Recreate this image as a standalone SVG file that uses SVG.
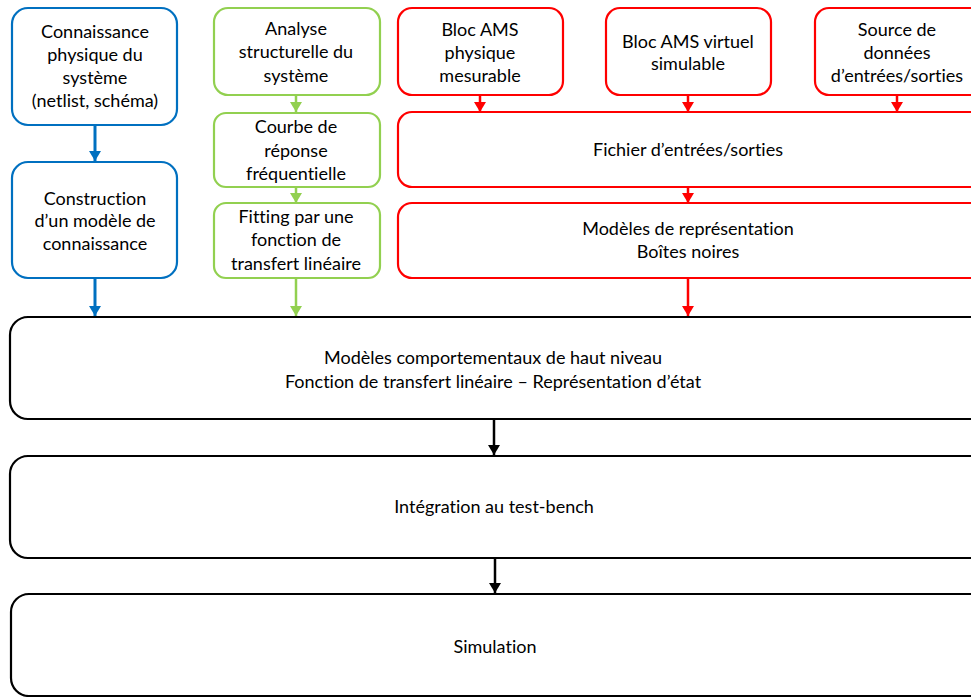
<svg xmlns="http://www.w3.org/2000/svg" width="971" height="697" viewBox="0 0 971 697">
<style>
text{font-family:Lato,"Liberation Sans",sans-serif;font-size:18px;fill:#000;text-anchor:middle;font-variant-ligatures:none;font-feature-settings:"liga" 0}
.b{fill:#fff;stroke:#0070C0;stroke-width:2.2}
.g{fill:#fff;stroke:#92D050;stroke-width:2.2}
.r{fill:#fff;stroke:#FF0000;stroke-width:2.2}
.k{fill:#fff;stroke:#000;stroke-width:2.2}
.lb{stroke:#0070C0;stroke-width:3}
.lg{stroke:#92D050;stroke-width:2.5}
.lr{stroke:#FF0000;stroke-width:2.5}
.lk{stroke:#000;stroke-width:2.5}
</style>
<defs>
<marker id="ab" markerUnits="userSpaceOnUse" markerWidth="12" markerHeight="10" refX="6" refY="10" viewBox="0 0 12 10"><path d="M0,0 L12,0 L6,10 Z" fill="#0070C0"/></marker>
<marker id="ag" markerUnits="userSpaceOnUse" markerWidth="12" markerHeight="10" refX="6" refY="10" viewBox="0 0 12 10"><path d="M0,0 L12,0 L6,10 Z" fill="#92D050"/></marker>
<marker id="ar" markerUnits="userSpaceOnUse" markerWidth="12" markerHeight="10" refX="6" refY="10" viewBox="0 0 12 10"><path d="M0,0 L12,0 L6,10 Z" fill="#FF0000"/></marker>
<marker id="ak" markerUnits="userSpaceOnUse" markerWidth="12" markerHeight="10" refX="6" refY="10" viewBox="0 0 12 10"><path d="M0,0 L12,0 L6,10 Z" fill="#000"/></marker>
</defs>
<g id="connectors">
<line class="lb" x1="95" y1="125" x2="95" y2="161" marker-end="url(#ab)"/>
<line class="lb" x1="95" y1="278" x2="95" y2="316" marker-end="url(#ab)"/>
<line class="lg" x1="296" y1="95" x2="296" y2="112" marker-end="url(#ag)"/>
<line class="lg" x1="296" y1="187" x2="296" y2="203" marker-end="url(#ag)"/>
<line class="lg" x1="296" y1="278" x2="296" y2="316" marker-end="url(#ag)"/>
<line class="lr" x1="480" y1="95" x2="480" y2="112" marker-end="url(#ar)"/>
<line class="lr" x1="688" y1="95" x2="688" y2="112" marker-end="url(#ar)"/>
<line class="lr" x1="897" y1="95" x2="897" y2="112" marker-end="url(#ar)"/>
<line class="lr" x1="688" y1="187" x2="688" y2="203" marker-end="url(#ar)"/>
<line class="lr" x1="688" y1="278" x2="688" y2="316" marker-end="url(#ar)"/>
<line class="lk" x1="494" y1="419" x2="494" y2="455" marker-end="url(#ak)"/>
<line class="lk" x1="495" y1="558" x2="495" y2="593" marker-end="url(#ak)"/>
</g>
<g id="n1"><rect class="b" x="12" y="8" width="165" height="117" rx="16"/>
<text x="95" y="38">Connaissance</text><text x="95" y="61">physique du</text><text x="95" y="84">système</text><text x="95" y="107">(netlist, schéma)</text></g>
<g id="n2"><rect class="b" x="12" y="162" width="165" height="116" rx="16"/>
<text x="95" y="205">Construction</text><text x="95" y="227">d’un modèle de</text><text x="95" y="250">connaissance</text></g>
<g id="n3"><rect class="g" x="214" y="8" width="166" height="87" rx="14"/>
<text x="296" y="35">Analyse</text><text x="296" y="58">structurelle du</text><text x="296" y="82">système</text></g>
<g id="n4"><rect class="g" x="214" y="113" width="166" height="74" rx="12"/>
<text x="296" y="133">Courbe de</text><text x="296" y="157">réponse</text><text x="296" y="180">fréquentielle</text></g>
<g id="n5"><rect class="g" x="214" y="203" width="166" height="75" rx="12"/>
<text x="296" y="223">Fitting par une</text><text x="296" y="246">fonction de</text><text x="296" y="270">transfert linéaire</text></g>
<g id="n6"><rect class="r" x="398" y="8" width="165" height="87" rx="14"/>
<text x="480" y="36">Bloc AMS</text><text x="480" y="59">physique</text><text x="480" y="82">mesurable</text></g>
<g id="n7"><rect class="r" x="606" y="8" width="165" height="87" rx="14"/>
<text x="688" y="48">Bloc AMS virtuel</text><text x="688" y="70">simulable</text></g>
<g id="n8"><rect class="r" x="815" y="8" width="180" height="87" rx="14"/>
<text x="897" y="36">Source de</text><text x="897" y="59">données</text><text x="897" y="82">d’entrées/sorties</text></g>
<g id="n9"><rect class="r" x="398" y="112" width="600" height="75" rx="14"/>
<text x="688" y="156">Fichier d’entrées/sorties</text></g>
<g id="n10"><rect class="r" x="398" y="203" width="600" height="75" rx="14"/>
<text x="688" y="235">Modèles de représentation</text><text x="688" y="258">Boîtes noires</text></g>
<g id="n11"><rect class="k" x="10" y="317" width="990" height="102" rx="18"/>
<text x="493" y="364">Modèles comportementaux de haut niveau</text><text x="493" y="388">Fonction de transfert linéaire – Représentation d’état</text></g>
<g id="n12"><rect class="k" x="10" y="456" width="990" height="102" rx="18"/>
<text x="494" y="513">Intégration au test-bench</text></g>
<g id="n13"><rect class="k" x="11" y="594" width="990" height="102" rx="18"/>
<text x="495" y="653">Simulation</text></g>
</svg>
